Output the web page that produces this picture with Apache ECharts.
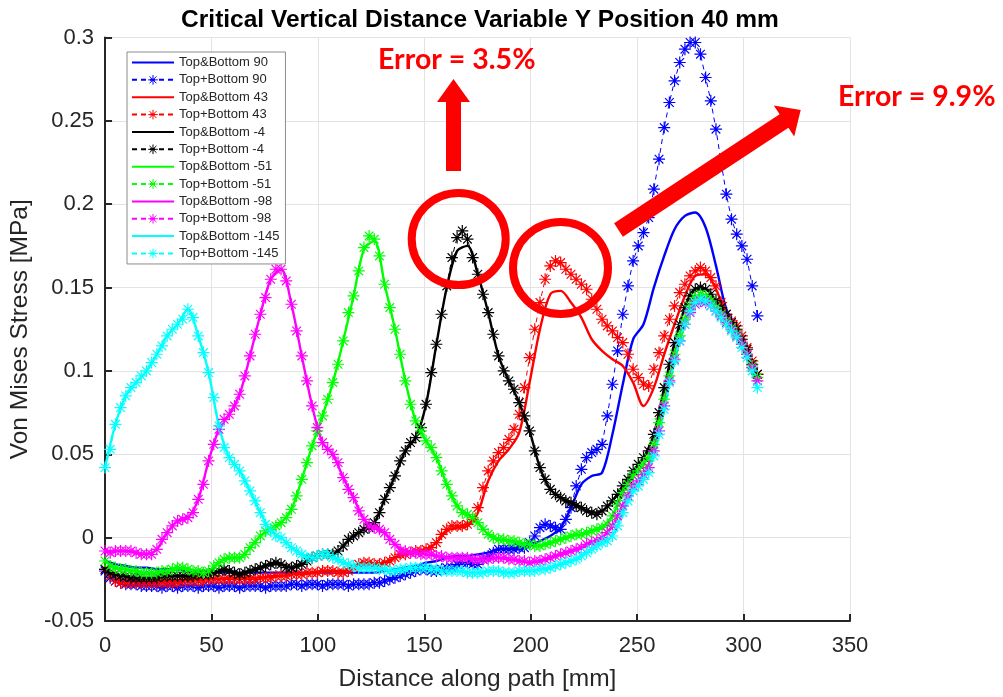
<!DOCTYPE html>
<html>
<head>
<meta charset="utf-8">
<script src="https://cdn.jsdelivr.net/npm/echarts@6/dist/echarts.min.js"></script>
<style>
  html, body { margin: 0; padding: 0; background: #fff; }
  #chart { width: 1003px; height: 697px; }
</style>
</head>
<body>
<div id="chart"></div>
<script>
// Sampling of the path: starred series every 2.4325 mm (127 nodes),
// solid series on every second node (64 nodes).
const PATH_STEP = 2.4325;

const xTicks = [0, 50, 100, 150, 200, 250, 300, 350];
const yTicks = [-0.05, 0, 0.05, 0.1, 0.15, 0.2, 0.25, 0.3];

const seriesNames = [
  'Top&Bottom 90', 'Top+Bottom 90',
  'Top&Bottom 43', 'Top+Bottom 43',
  'Top&Bottom -4', 'Top+Bottom -4',
  'Top&Bottom -51', 'Top+Bottom -51',
  'Top&Bottom -98', 'Top+Bottom -98',
  'Top&Bottom -145', 'Top+Bottom -145'
];

// ---- Top&Bottom (solid lines, every second node) ----
const tb90 = [
  -0.014, -0.016, -0.017, -0.018, -0.018, -0.019, -0.019, -0.019, -0.020, -0.020,
  -0.020, -0.021, -0.021, -0.021, -0.021, -0.021, -0.021, -0.021, -0.021, -0.021,
  -0.021, -0.021, -0.021, -0.021, -0.021, -0.021, -0.021, -0.020, -0.019, -0.018,
  -0.017, -0.015, -0.014, -0.012, -0.011, -0.011, -0.010, -0.009, -0.007, -0.007,
  -0.007, -0.005, -0.002, 0.001, 0.006, 0.018, 0.032, 0.037, 0.039, 0.062,
  0.092, 0.119, 0.128, 0.150, 0.169, 0.185, 0.193, 0.195, 0.186, 0.163,
  0.137, 0.126, 0.114, 0.098
];
const tb43 = [
  -0.018, -0.024, -0.026, -0.026, -0.026, -0.026, -0.026, -0.026, -0.025, -0.025,
  -0.025, -0.025, -0.024, -0.024, -0.024, -0.024, -0.023, -0.023, -0.022, -0.022,
  -0.021, -0.020, -0.020, -0.020, -0.018, -0.016, -0.016, -0.015, -0.012, -0.010,
  -0.009, -0.007, -0.003, 0.004, 0.006, 0.007, 0.015, 0.034, 0.046, 0.053,
  0.063, 0.093, 0.125, 0.146, 0.148, 0.141, 0.132, 0.119, 0.112, 0.107,
  0.103, 0.093, 0.079, 0.090, 0.110, 0.128, 0.145, 0.157, 0.158, 0.149,
  0.134, 0.126, 0.114, 0.098
];
const tbM4 = [
  -0.019, -0.022, -0.023, -0.024, -0.024, -0.024, -0.023, -0.023, -0.023, -0.022,
  -0.022, -0.020, -0.020, -0.022, -0.020, -0.018, -0.016, -0.016, -0.018, -0.016,
  -0.012, -0.010, -0.010, -0.005, 0.001, 0.005, 0.009, 0.023, 0.037, 0.052,
  0.060, 0.080, 0.116, 0.150, 0.172, 0.175, 0.158, 0.135, 0.109, 0.094,
  0.081, 0.064, 0.042, 0.029, 0.024, 0.021, 0.018, 0.015, 0.016, 0.022,
  0.031, 0.040, 0.048, 0.062, 0.090, 0.117, 0.138, 0.149, 0.149, 0.142,
  0.134, 0.125, 0.113, 0.098
];
const tbM51 = [
  -0.014, -0.018, -0.019, -0.020, -0.021, -0.021, -0.020, -0.018, -0.019, -0.020,
  -0.020, -0.015, -0.012, -0.012, -0.006, 0.001, 0.005, 0.009, 0.017, 0.035,
  0.055, 0.073, 0.093, 0.118, 0.145, 0.173, 0.178, 0.152, 0.125, 0.094,
  0.070, 0.058, 0.048, 0.032, 0.019, 0.014, 0.009, 0.002, -0.001, -0.002,
  -0.003, -0.004, -0.005, -0.003, -0.001, 0.001, 0.002, 0.004, 0.006, 0.013,
  0.027, 0.037, 0.044, 0.056, 0.083, 0.110, 0.131, 0.144, 0.145, 0.138,
  0.130, 0.122, 0.110, 0.096
];
const tbM98 = [
  -0.008, -0.008, -0.008, -0.009, -0.010, -0.007, 0.003, 0.010, 0.012, 0.023,
  0.046, 0.065, 0.074, 0.086, 0.109, 0.134, 0.155, 0.161, 0.140, 0.109,
  0.079, 0.057, 0.050, 0.036, 0.024, 0.011, 0.006, 0.003, -0.004, -0.008,
  -0.009, -0.010, -0.011, -0.012, -0.012, -0.012, -0.013, -0.013, -0.012, -0.013,
  -0.014, -0.015, -0.014, -0.012, -0.010, -0.008, -0.006, -0.003, 0.000, 0.007,
  0.019, 0.031, 0.038, 0.052, 0.079, 0.107, 0.128, 0.140, 0.141, 0.136,
  0.129, 0.121, 0.110, 0.094
];
const tbM145 = [
  0.042, 0.068, 0.085, 0.093, 0.100, 0.110, 0.121, 0.128, 0.137, 0.121,
  0.099, 0.067, 0.048, 0.040, 0.028, 0.015, 0.004, 0.000, -0.006, -0.010,
  -0.012, -0.010, -0.012, -0.015, -0.017, -0.018, -0.018, -0.019, -0.020, -0.019,
  -0.018, -0.018, -0.019, -0.020, -0.020, -0.021, -0.021, -0.020, -0.020, -0.021,
  -0.020, -0.020, -0.019, -0.018, -0.016, -0.014, -0.011, -0.007, -0.003, 0.001,
  0.015, 0.028, 0.035, 0.049, 0.077, 0.106, 0.128, 0.141, 0.142, 0.136,
  0.128, 0.120, 0.108, 0.090
];

// ---- Top+Bottom (dashed lines with asterisks, every node) ----
const tp90 = [
  -0.020, -0.024, -0.026, -0.027, -0.028, -0.028, -0.028, -0.029, -0.029, -0.029,
  -0.029, -0.030, -0.029, -0.029, -0.030, -0.029, -0.029, -0.029, -0.030, -0.029,
  -0.029, -0.029, -0.030, -0.029, -0.029, -0.029, -0.030, -0.029, -0.029, -0.029,
  -0.029, -0.030, -0.029, -0.029, -0.029, -0.029, -0.028, -0.028, -0.029, -0.028,
  -0.028, -0.028, -0.029, -0.028, -0.028, -0.028, -0.028, -0.029, -0.028, -0.028,
  -0.028, -0.028, -0.027, -0.027, -0.026, -0.025, -0.024, -0.023, -0.022, -0.021,
  -0.020, -0.019, -0.019, -0.020, -0.020, -0.019, -0.018, -0.018, -0.016, -0.015,
  -0.015, -0.016, -0.016, -0.013, -0.011, -0.009, -0.007, -0.007, -0.007, -0.007,
  -0.006, -0.006, -0.003, 0.001, 0.006, 0.008, 0.007, 0.006, 0.005, 0.011,
  0.018, 0.031, 0.041, 0.048, 0.051, 0.053, 0.056, 0.073, 0.092, 0.112,
  0.134, 0.151, 0.166, 0.175, 0.183, 0.192, 0.209, 0.227, 0.246, 0.261,
  0.274, 0.285, 0.293, 0.297, 0.297, 0.290, 0.276, 0.262, 0.245, 0.225,
  0.206, 0.191, 0.182, 0.175, 0.167, 0.151, 0.133
];
const tp43 = [
  -0.019, -0.023, -0.026, -0.027, -0.027, -0.027, -0.027, -0.027, -0.027, -0.027,
  -0.027, -0.027, -0.027, -0.027, -0.027, -0.026, -0.026, -0.026, -0.026, -0.026,
  -0.025, -0.025, -0.025, -0.025, -0.025, -0.025, -0.025, -0.025, -0.025, -0.025,
  -0.024, -0.024, -0.024, -0.023, -0.023, -0.023, -0.022, -0.022, -0.022, -0.021,
  -0.021, -0.021, -0.020, -0.020, -0.020, -0.021, -0.021, -0.020, -0.018, -0.016,
  -0.015, -0.015, -0.016, -0.016, -0.015, -0.014, -0.012, -0.010, -0.010, -0.009,
  -0.008, -0.008, -0.007, -0.006, -0.003, 0.002, 0.005, 0.007, 0.007, 0.007,
  0.008, 0.011, 0.018, 0.030, 0.040, 0.046, 0.051, 0.054, 0.059, 0.065,
  0.074, 0.090, 0.108, 0.125, 0.141, 0.155, 0.163, 0.166, 0.165, 0.161,
  0.158, 0.155, 0.152, 0.149, 0.143, 0.137, 0.131, 0.127, 0.124, 0.120,
  0.117, 0.110, 0.101, 0.096, 0.092, 0.091, 0.101, 0.111, 0.121, 0.131,
  0.139, 0.147, 0.152, 0.157, 0.160, 0.162, 0.160, 0.156, 0.151, 0.141,
  0.134, 0.130, 0.127, 0.121, 0.114, 0.106, 0.098
];
const tpM4 = [
  -0.019, -0.021, -0.022, -0.023, -0.023, -0.024, -0.024, -0.024, -0.024, -0.024,
  -0.024, -0.023, -0.023, -0.023, -0.023, -0.023, -0.023, -0.023, -0.022, -0.022,
  -0.022, -0.021, -0.020, -0.019, -0.020, -0.021, -0.022, -0.021, -0.020, -0.019,
  -0.018, -0.017, -0.016, -0.015, -0.016, -0.018, -0.018, -0.017, -0.016, -0.014,
  -0.012, -0.011, -0.010, -0.010, -0.010, -0.008, -0.005, -0.001, 0.001, 0.003,
  0.005, 0.006, 0.009, 0.015, 0.023, 0.030, 0.037, 0.046, 0.052, 0.057,
  0.060, 0.066, 0.080, 0.099, 0.116, 0.134, 0.151, 0.168, 0.180, 0.184,
  0.179, 0.168, 0.158, 0.146, 0.135, 0.122, 0.109, 0.100, 0.094, 0.089,
  0.081, 0.073, 0.064, 0.052, 0.042, 0.035, 0.029, 0.026, 0.024, 0.022,
  0.021, 0.019, 0.018, 0.016, 0.015, 0.014, 0.016, 0.019, 0.022, 0.026,
  0.031, 0.035, 0.040, 0.044, 0.048, 0.052, 0.062, 0.075, 0.090, 0.104,
  0.117, 0.128, 0.138, 0.145, 0.149, 0.150, 0.149, 0.146, 0.142, 0.138,
  0.134, 0.129, 0.125, 0.119, 0.113, 0.104, 0.098
];
const tpM51 = [
  -0.014, -0.017, -0.018, -0.019, -0.019, -0.020, -0.020, -0.021, -0.021, -0.021,
  -0.021, -0.020, -0.020, -0.019, -0.018, -0.018, -0.019, -0.020, -0.020, -0.021,
  -0.020, -0.017, -0.015, -0.013, -0.012, -0.012, -0.012, -0.010, -0.006, -0.003,
  0.001, 0.004, 0.005, 0.007, 0.009, 0.012, 0.017, 0.025, 0.035, 0.045,
  0.055, 0.064, 0.073, 0.083, 0.093, 0.104, 0.118, 0.135, 0.145, 0.160,
  0.174, 0.181, 0.179, 0.169, 0.152, 0.138, 0.125, 0.110, 0.094, 0.080,
  0.070, 0.064, 0.058, 0.054, 0.048, 0.040, 0.032, 0.025, 0.019, 0.015,
  0.014, 0.012, 0.009, 0.005, 0.002, 0.000, -0.001, -0.001, -0.002, -0.002,
  -0.003, -0.004, -0.004, -0.005, -0.005, -0.004, -0.003, -0.002, -0.001, 0.000,
  0.001, 0.002, 0.002, 0.003, 0.004, 0.005, 0.006, 0.008, 0.013, 0.020,
  0.027, 0.032, 0.037, 0.040, 0.044, 0.048, 0.056, 0.069, 0.083, 0.097,
  0.110, 0.121, 0.131, 0.139, 0.144, 0.146, 0.145, 0.142, 0.138, 0.134,
  0.130, 0.126, 0.122, 0.116, 0.110, 0.103, 0.096
];
const tpM98 = [
  -0.008, -0.009, -0.008, -0.008, -0.008, -0.008, -0.009, -0.010, -0.010, -0.010,
  -0.007, -0.001, 0.003, 0.007, 0.010, 0.011, 0.012, 0.015, 0.023, 0.032,
  0.046, 0.056, 0.065, 0.071, 0.074, 0.079, 0.086, 0.097, 0.109, 0.122,
  0.134, 0.144, 0.155, 0.161, 0.161, 0.154, 0.140, 0.124, 0.109, 0.094,
  0.079, 0.066, 0.057, 0.053, 0.050, 0.045, 0.036, 0.029, 0.024, 0.016,
  0.011, 0.007, 0.006, 0.005, 0.003, -0.001, -0.004, -0.008, -0.008, -0.009,
  -0.009, -0.010, -0.010, -0.010, -0.011, -0.011, -0.012, -0.012, -0.012, -0.012,
  -0.012, -0.013, -0.013, -0.013, -0.013, -0.012, -0.012, -0.012, -0.013, -0.013,
  -0.014, -0.014, -0.015, -0.014, -0.014, -0.013, -0.012, -0.011, -0.010, -0.009,
  -0.008, -0.007, -0.006, -0.004, -0.003, -0.002, 0.000, 0.003, 0.007, 0.013,
  0.019, 0.025, 0.031, 0.034, 0.038, 0.042, 0.052, 0.064, 0.079, 0.094,
  0.107, 0.118, 0.128, 0.135, 0.140, 0.142, 0.141, 0.139, 0.136, 0.133,
  0.129, 0.125, 0.121, 0.116, 0.110, 0.102, 0.094
];
const tpM145 = [
  0.042, 0.053, 0.068, 0.078, 0.085, 0.090, 0.093, 0.097, 0.100, 0.105,
  0.110, 0.115, 0.121, 0.125, 0.128, 0.131, 0.137, 0.132, 0.121, 0.111,
  0.099, 0.084, 0.067, 0.054, 0.048, 0.044, 0.040, 0.034, 0.028, 0.022,
  0.015, 0.008, 0.004, 0.001, 0.000, -0.003, -0.006, -0.008, -0.010, -0.012,
  -0.012, -0.011, -0.010, -0.010, -0.012, -0.013, -0.015, -0.016, -0.017, -0.018,
  -0.018, -0.018, -0.018, -0.019, -0.019, -0.020, -0.020, -0.019, -0.019, -0.018,
  -0.018, -0.018, -0.018, -0.019, -0.019, -0.020, -0.020, -0.020, -0.020, -0.020,
  -0.021, -0.021, -0.021, -0.021, -0.020, -0.020, -0.020, -0.021, -0.021, -0.021,
  -0.020, -0.020, -0.020, -0.020, -0.019, -0.019, -0.018, -0.017, -0.016, -0.015,
  -0.014, -0.013, -0.011, -0.009, -0.007, -0.005, -0.003, -0.002, 0.001, 0.007,
  0.015, 0.022, 0.028, 0.031, 0.035, 0.039, 0.049, 0.062, 0.077, 0.093,
  0.106, 0.118, 0.128, 0.136, 0.141, 0.143, 0.142, 0.139, 0.136, 0.132,
  0.128, 0.124, 0.120, 0.114, 0.108, 0.100, 0.090
];

const colors = ['#0000ff', '#ff0000', '#000000', '#00ff00', '#ff00ff', '#00ffff'];
const solidData = [tb90, tb43, tbM4, tbM51, tbM98, tbM145];
const starData = [tp90, tp43, tpM4, tpM51, tpM98, tpM145];

// MATLAB-style asterisk marker: '+' and 'x' strokes
const ASTERISK = 'path://M0,-10L0,10M-10,0L10,0M-7.2,-7.2L7.2,7.2M-7.2,7.2L7.2,-7.2';

function toPoints(values, every) {
  return values.map((v, i) => [i * every * PATH_STEP, v]);
}

const series = [];
for (let k = 0; k < colors.length; k++) {
  const c = colors[k];
  series.push({
    name: seriesNames[2 * k],
    type: 'line',
    data: toPoints(solidData[k], 2),
    symbol: 'none',
    smooth: 0.3,
    color: c,
    lineStyle: { color: c, width: 2.4 },
    emphasis: { disabled: true },
    silent: true,
    animation: false
  });
  series.push({
    name: seriesNames[2 * k + 1],
    type: 'line',
    data: toPoints(starData[k], 1),
    symbol: ASTERISK,
    symbolSize: 12,
    showSymbol: true,
    showAllSymbol: true,
    color: c,
    itemStyle: { color: c, borderColor: c, borderWidth: 1.2 },
    lineStyle: { color: c, width: 1, type: [5, 4] },
    emphasis: { disabled: true },
    silent: true,
    animation: false
  });
}

const AXIS_COLOR = '#262626';
const GRID_COLOR = '#e3e3e3';
const FONT = 'Liberation Sans, Arial, sans-serif';

function fmtY(v) {
  const r = Math.round(v * 100) / 100;
  return String(r);
}

// Legend entries: the solid-line entries show only their line
const legendData = seriesNames.map((n, i) =>
  i % 2 === 0 ? { name: n, itemStyle: { opacity: 0 } } : { name: n, itemStyle: { borderWidth: 1 } }
);

const chart = echarts.init(document.getElementById('chart'), null, { renderer: 'canvas' });

// Red annotation shapes
const up = [[446, 171], [446, 102], [437, 102], [453.5, 79], [470, 102], [461, 102], [461, 171]];
const diag = [[614.1, 223.3], [779.6, 114.3], [773.8, 105.6], [800.7, 110], [794.2, 136.4], [788.4, 127.7], [622.9, 236.7]];

const option = {
  animation: false,
  backgroundColor: '#ffffff',
  title: {
    text: 'Critical Vertical Distance Variable Y Position 40 mm',
    left: 475,
    top: 3,
    textAlign: 'center',
    textStyle: { fontFamily: FONT, fontWeight: 'bold', fontSize: 24.5, color: '#000' }
  },
  grid: { left: 104.5, right: 153, top: 37.5, bottom: 73, containLabel: false },
  xAxis: {
    type: 'value',
    min: xTicks[0],
    max: xTicks[xTicks.length - 1],
    interval: 50,
    name: 'Distance along path [mm]',
    nameLocation: 'middle',
    nameGap: 46,
    nameTextStyle: { fontFamily: FONT, fontSize: 24.5, color: AXIS_COLOR },
    axisLine: { show: true, onZero: false, lineStyle: { color: AXIS_COLOR, width: 2 } },
    axisTick: { show: true, inside: true, length: 7, lineStyle: { color: AXIS_COLOR, width: 2 } },
    axisLabel: { fontFamily: FONT, fontSize: 22, color: AXIS_COLOR, margin: 14 },
    splitLine: { show: true, lineStyle: { color: GRID_COLOR, width: 1 } }
  },
  yAxis: {
    type: 'value',
    min: yTicks[0],
    max: yTicks[yTicks.length - 1],
    interval: 0.05,
    name: 'Von Mises Stress [MPa]',
    nameLocation: 'middle',
    nameGap: 68,
    nameRotate: 90,
    nameTextStyle: { fontFamily: FONT, fontSize: 24.5, color: AXIS_COLOR },
    axisLine: { show: true, onZero: false, lineStyle: { color: AXIS_COLOR, width: 2 } },
    axisTick: { show: true, inside: true, length: 7, lineStyle: { color: AXIS_COLOR, width: 2 } },
    axisLabel: { fontFamily: FONT, fontSize: 22, color: AXIS_COLOR, margin: 11, formatter: fmtY },
    splitLine: { show: true, lineStyle: { color: GRID_COLOR, width: 1 } }
  },
  legend: {
    orient: 'vertical',
    left: 127,
    top: 52,
    padding: [4, 6, 4, 4],
    itemWidth: 42,
    itemHeight: 12,
    itemGap: 4.36,
    backgroundColor: '#ffffff',
    borderColor: '#8c8c8c',
    borderWidth: 1,
    textStyle: { fontFamily: FONT, fontSize: 13, color: AXIS_COLOR },
    selectedMode: false,
    data: legendData
  },
  series: series,
  graphic: [
    { type: 'ellipse', z: 100, shape: { cx: 458.7, cy: 239, rx: 47, ry: 46 },
      style: { fill: 'none', stroke: '#ff0000', lineWidth: 8 } },
    { type: 'ellipse', z: 100, shape: { cx: 560.5, cy: 268, rx: 47.5, ry: 46 },
      style: { fill: 'none', stroke: '#ff0000', lineWidth: 8 } },
    { type: 'polygon', z: 100, shape: { points: up }, style: { fill: '#ff0000' } },
    { type: 'polygon', z: 100, shape: { points: diag }, style: { fill: '#ff0000' } },
    { type: 'text', z: 100, x: 378, y: 60,
      style: { text: 'Error = 3.5%', fill: '#ff0000', font: 'bold 28.5px Lato, "Liberation Sans", sans-serif', verticalAlign: 'middle' } },
    { type: 'text', z: 100, x: 838, y: 97,
      style: { text: 'Error = 9.9%', fill: '#ff0000', font: 'bold 28.5px Lato, "Liberation Sans", sans-serif', verticalAlign: 'middle' } }
  ]
};

chart.setOption(option);
</script>
</body>
</html>
